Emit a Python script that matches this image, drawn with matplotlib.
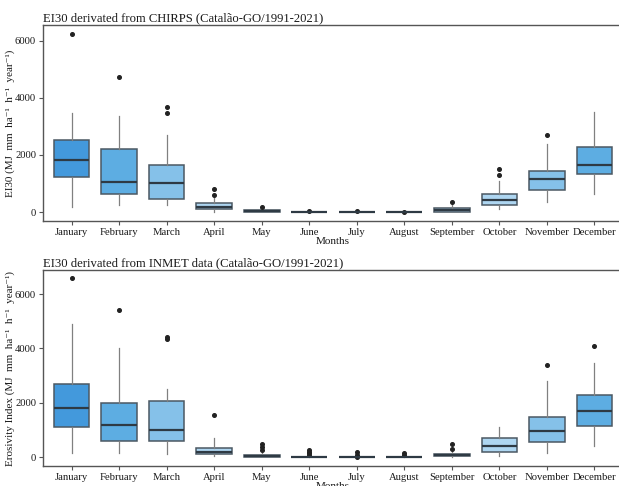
import matplotlib
matplotlib.use("Agg")
import matplotlib.pyplot as plt

plt.rcParams['font.family'] = ['Liberation Serif', 'DejaVu Serif']

months = ["January", "February", "March", "April", "May", "June",
          "July", "August", "September", "October", "November", "December"]

box_colors = ["#4399dc", "#5dade2", "#85c1e9", "#aed6f1", "#aed6f1", "#aed6f1",
              "#aed6f1", "#aed6f1", "#aed6f1", "#aed6f1", "#85c1e9", "#5dade2"]

# CHIRPS-based EI30 summary statistics per month
chirps_whislo = [196, 255, 255, 10, 0, 0, 0, 0, 0, 105, 350, 640]
chirps_q1 = [1245, 629, 476, 105, 10, 0, 0, 0, 20, 266, 769, 1329]
chirps_med = [1829, 1070, 1025, 196, 30, 5, 3, 2, 60, 430, 1165, 1643]
chirps_q3 = [2528, 2203, 1643, 315, 60, 15, 10, 8, 140, 629, 1455, 2294]
chirps_whishi = [3462, 3368, 2703, 490, 100, 30, 20, 15, 260, 1095, 2389, 3497]
chirps_fliers = [[6235], [4731], [3682, 3483], [615, 800], [196], [45],
                 [35], [20], [370], [1294, 1525], [2714], []]

# INMET-based EI30 summary statistics per month
inmet_whislo = [147, 147, 110, 22, 0, 0, 0, 0, 20, 37, 133, 405]
inmet_q1 = [1105, 589, 611, 96, 10, 0, 0, 0, 22, 184, 563, 1153]
inmet_med = [1790, 1178, 1005, 195, 30, 8, 5, 4, 66, 405, 943, 1694]
inmet_q3 = [2700, 1974, 2073, 331, 70, 20, 12, 10, 122, 685, 1484, 2283]
inmet_whishi = [4898, 4014, 2515, 700, 150, 40, 30, 25, 195, 1090, 2810, 3473]
inmet_fliers = [[6578], [5400], [4430, 4331], [1558], [243, 368, 490],
                [60, 147, 200, 269], [10, 85, 170], [85, 147], [295, 478],
                [], [3374], [4073]]


def make_stats(whislo, q1, med, q3, whishi, fliers):
    return [dict(whislo=a, q1=b, med=c, q3=d, whishi=e, fliers=f, label=m)
            for a, b, c, d, e, f, m in zip(whislo, q1, med, q3, whishi, fliers, months)]


fig = plt.figure(figsize=(6.19, 4.86), dpi=100)
W, H = 619, 486


def add_panel(top, bottom, stats, title, ylabel, ylim):
    left, right = 43, 623
    ax = fig.add_axes([left / W, (H - bottom) / H, (right - left) / W, (bottom - top) / H])
    bp = ax.bxp(stats, positions=range(1, 13), widths=0.75, patch_artist=True,
                showcaps=False,
                boxprops=dict(edgecolor="#4b5863", linewidth=1.1),
                medianprops=dict(color="#2e3a44", linewidth=1.6),
                whiskerprops=dict(color="#808080", linewidth=0.9),
                flierprops=dict(marker="o", markersize=2.6, markerfacecolor="#222222",
                                markeredgecolor="#222222"))
    for patch, c in zip(bp["boxes"], box_colors):
        patch.set_facecolor(c)
    ax.set_xlim(0.4, 12.6)
    ax.set_ylim(*ylim)
    ax.set_yticks([0, 2000, 4000, 6000])
    ax.set_xticks(range(1, 13))
    ax.set_xticklabels(months)
    for s in ax.spines.values():
        s.set_color("#555555")
        s.set_linewidth(1.0)
    ax.tick_params(axis="both", colors="#555555", labelcolor="#1a1a1a",
                   labelsize=7.7, length=3, width=0.8, pad=2)
    ax.set_xlabel("Months", fontsize=8, color="#1a1a1a", labelpad=0)
    ax.set_ylabel(ylabel, fontsize=8, color="#1a1a1a")
    ax.yaxis.set_label_coords(-0.048, 0.5)
    ax.set_title(title, loc="left", fontsize=9.1, color="#1a1a1a", pad=3)
    return ax


add_panel(25, 221, make_stats(chirps_whislo, chirps_q1, chirps_med, chirps_q3,
                              chirps_whishi, chirps_fliers),
          "EI30 derivated from CHIRPS (Catalão-GO/1991-2021)",
          "EI30 (MJ  mm  ha⁻¹  h⁻¹  year⁻¹)", (-310, 6550))

add_panel(270, 466, make_stats(inmet_whislo, inmet_q1, inmet_med, inmet_q3,
                               inmet_whishi, inmet_fliers),
          "EI30 derivated from INMET data (Catalão-GO/1991-2021)",
          "Erosivity Index (MJ  mm  ha⁻¹  h⁻¹  year⁻¹)", (-328, 6890))

fig.savefig("out.png", dpi=100)
